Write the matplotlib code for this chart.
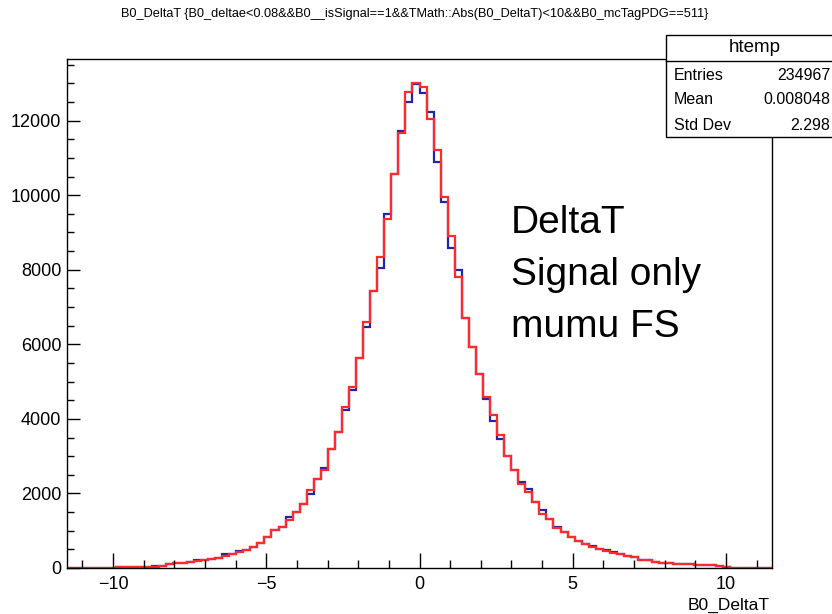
import numpy as np
import matplotlib
matplotlib.use("Agg")
import matplotlib.pyplot as plt
from matplotlib.patches import Rectangle
from matplotlib.ticker import MultipleLocator

plt.rcParams['font.family'] = ['Liberation Sans', 'DejaVu Sans']

# htemp binning: 100 bins on [-11.5, 11.5]
n_bins = 100
x_lo, x_hi = -11.5, 11.5

counts_red = [
    0, 0, 0, 0, 0, 0, 8, 20, 22, 25,
    28, 32, 30, 45, 105, 125, 142, 170, 195, 214,
    232, 259, 321, 374, 436, 481, 570, 660, 837, 1016,
    1104, 1283, 1505, 1711, 2085, 2380, 2640, 3200, 3645, 4313,
    4866, 5634, 6586, 7433, 8350, 9350, 10570, 11666, 12762, 13003,
    12914, 12050, 11222, 9955, 8895, 7807, 6703, 5917, 5206, 4599,
    4110, 3575, 2995, 2620, 2265, 2040, 1773, 1444, 1302, 1061,
    971, 837, 730, 642, 570, 500, 463, 393, 374, 321,
    300, 214, 214, 170, 140, 125, 115, 105, 95, 85,
    75, 68, 55, 25, 0, 0, 0, 0, 0, 0,
]

counts_blue = [
    0, 0, 0, 0, 0, 0, 8, 20, 22, 25,
    28, 32, 50, 55, 105, 125, 142, 170, 205, 214,
    232, 265, 370, 374, 450, 481, 570, 660, 837, 1016,
    1104, 1355, 1505, 1711, 1990, 2380, 2693, 3200, 3645, 4225,
    4778, 5634, 6452, 7433, 8056, 9500, 10570, 11730, 12513, 12990,
    12736, 12227, 10890, 9821, 8591, 7987, 6703, 5917, 5206, 4537,
    3940, 3468, 2995, 2620, 2308, 2131, 1773, 1551, 1302, 1104,
    971, 837, 730, 642, 600, 500, 470, 420, 374, 321,
    300, 225, 225, 170, 140, 125, 115, 105, 95, 85,
    75, 68, 60, 30, 0, 0, 0, 0, 0, 0,
]

stats_names = ["Entries", "Mean", "Std Dev"]
stats_values = ["234967", "0.008048", "2.298"]
hist_name = "htemp"

title = ("B0_DeltaT {B0_deltae<0.08&&B0__isSignal==1&&"
         "TMath::Abs(B0_DeltaT)<10&&B0_mcTagPDG==511}")
x_title = "B0_DeltaT"
note_lines = ["DeltaT", "Signal only", "mumu FS"]

W, H = 832, 614
fig = plt.figure(figsize=(W / 100, H / 100), dpi=100)

def fx(px):
    return px / W

def fy(py):
    return 1 - py / H

ax = fig.add_axes([fx(67), fy(568), fx(772) - fx(67), fy(59) - fy(568)])

edges = np.linspace(x_lo, x_hi, n_bins + 1)
ax.stairs(counts_blue, edges, color='#2424a8', lw=1.6)
ax.stairs(counts_red, edges, color='#ff2a2a', lw=1.6)

ax.set_xlim(x_lo, x_hi)
ax.set_ylim(0, 1.05 * max(max(counts_red), max(counts_blue)))

for s in ax.spines.values():
    s.set_linewidth(1.0)
    s.set_color('black')

ax.xaxis.set_major_locator(MultipleLocator(5))
ax.xaxis.set_minor_locator(MultipleLocator(1))
ax.yaxis.set_major_locator(MultipleLocator(2000))
ax.yaxis.set_minor_locator(MultipleLocator(500))
ax.tick_params(which='both', direction='in', top=False, right=False,
               labelsize=13, width=1.0)
ax.tick_params(axis='x', which='major', length=11, pad=6)
ax.tick_params(axis='x', which='minor', length=5.5)
ax.tick_params(axis='y', which='major', length=9, pad=4)
ax.tick_params(axis='y', which='minor', length=5)

fig.text(fx(415), fy(14), title, ha='center', va='center', fontsize=9.2)
fig.text(fx(770), fy(605), x_title, ha='right', va='center', fontsize=12.5)

# stats box
box = Rectangle((fx(666), fy(137)), fx(850) - fx(666), fy(35) - fy(137),
                transform=fig.transFigure, facecolor='white',
                edgecolor='black', lw=1.0, clip_on=False)
fig.add_artist(box)
fig.add_artist(plt.Line2D([fx(666), fx(850)], [fy(61), fy(61)],
                          transform=fig.transFigure, color='black', lw=1.0))
fig.text(fx(755), fy(48), hist_name, ha='center', va='center', fontsize=13.5)
for i, (name, val) in enumerate(zip(stats_names, stats_values)):
    y = fy(75 + 25 * i)
    fig.text(fx(674), y, name, ha='left', va='center', fontsize=11.5)
    fig.text(fx(830), y, val, ha='right', va='center', fontsize=11.5)

for i, line in enumerate(note_lines):
    fig.text(fx(511), fy(233 + 52 * i), line, ha='left', va='baseline',
             fontsize=28)

fig.savefig("out.png", dpi=100)
